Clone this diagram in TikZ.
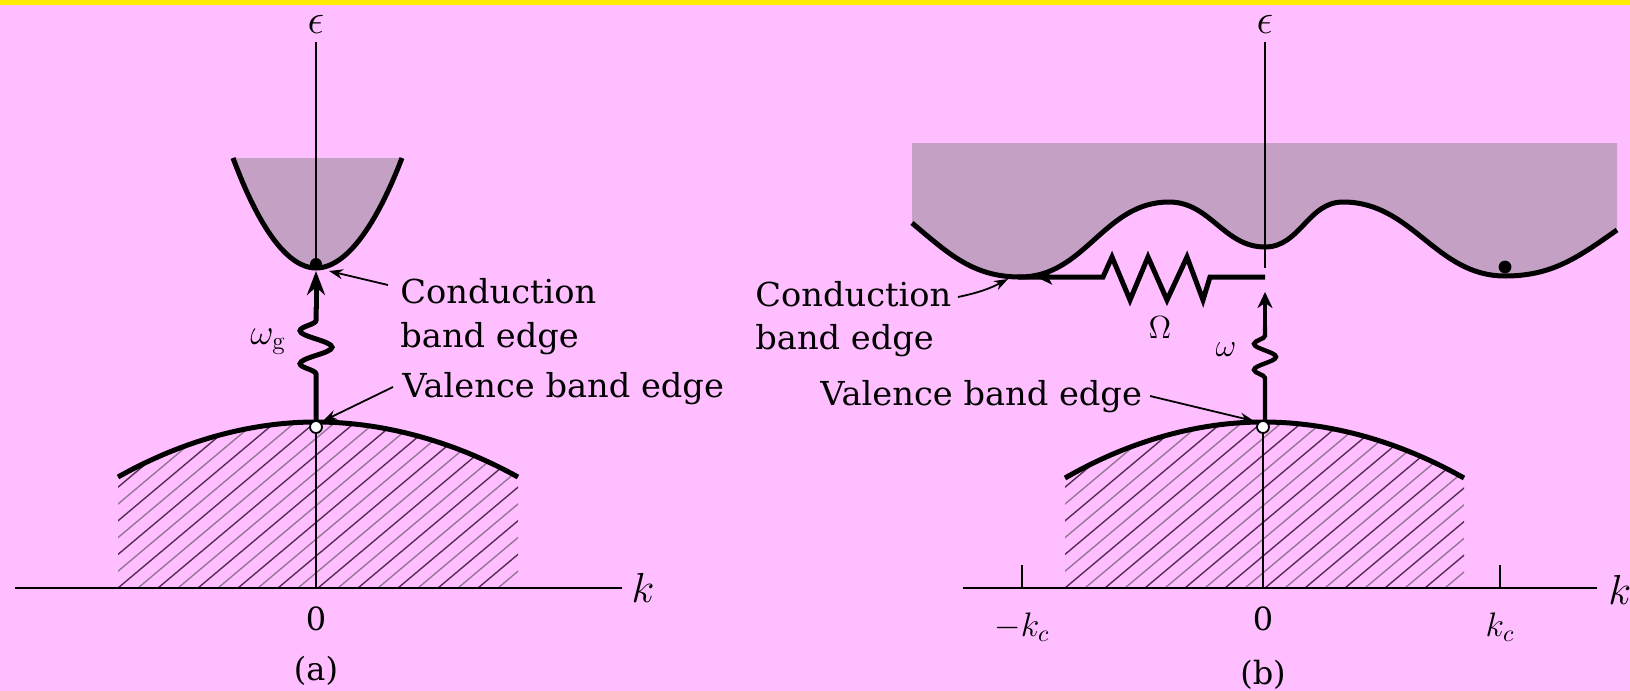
\RequirePackage{fix-cm}
\documentclass[tikz,border=0pt]{standalone}
\usepackage{graphicx}
\usepackage{fontspec}
\newfontfamily\lblfont{DejaVu Serif}
\usetikzlibrary{arrows.meta,decorations.pathmorphing}
\definecolor{pinkbg}{RGB}{255,190,255}
\definecolor{topyellow}{RGB}{255,236,0}
\definecolor{bandfill}{RGB}{196,160,196}
\definecolor{hatchdark}{RGB}{85,45,85}
\definecolor{hatchlight}{RGB}{150,118,150}
\newcommand\wlbl[1]{\scalebox{1.02}[1]{#1}}
\begin{document}
\begin{tikzpicture}[x=0.5pt,y=0.5pt,
  band/.style={line width=2.5pt},
  axisline/.style={line width=1pt},
  kaxis/.style={line width=1.2pt},
  lblarrow/.style={line width=0.9pt,-{Stealth[length=7pt,width=5pt]}},
  txt/.style={font=\lblfont\fontsize{16.5}{20}\selectfont,inner sep=0pt,anchor=base west},
  tlab/.style={font=\lblfont\fontsize{16}{20}\selectfont,inner sep=0pt},
  mlab/.style={font=\fontsize{17}{20}\selectfont,inner sep=0pt},
  biglab/.style={font=\fontsize{21}{24}\selectfont,inner sep=0pt},
  hatchd/.style={line width=0.7pt,hatchdark},
  hatchl/.style={line width=0.7pt,hatchlight},
  opendot/.style={fill=white,draw=black,line width=0.9pt},
]
\useasboundingbox (0,0) rectangle (1630,-691);
\fill[pinkbg] (0,0) rectangle (1630,-691);
\fill[topyellow] (0,0) rectangle (1630,-5);

% ================= panel (a) =================
\coordinate (aTop) at (316,-42);
\coordinate (aCmin) at (316,-264);
\coordinate (aVmax) at (316,-427);
\coordinate (aOrig) at (316,-588);
\coordinate (aKl) at (15,-588);
\coordinate (aKr) at (622,-588);

% conduction band fill
\fill[bandfill] (233,-158) parabola bend (316,-268) (402,-158) -- cycle;
% valence hatch
\begin{scope}
\clip (118,-477) parabola bend (316,-422) (518,-477) -- (518,-588) -- (118,-588) -- cycle;
\foreach \i in {0,2,...,32} {\draw[hatchd] ({-82+\i*20},-588) -- ++(200,168);}
\foreach \i in {1,3,...,31} {\draw[hatchl] ({-82+\i*20},-588) -- ++(200,168);}
\end{scope}
% axes
\draw[axisline] (aTop) -- (aCmin);
\draw[axisline] (aVmax) -- (aOrig);
\draw[kaxis] (aKl) -- (aKr);
% bands
\draw[band] (233,-158) parabola bend (316,-268) (402,-158);
\draw[band] (118,-477) parabola bend (316,-422) (518,-477);
% photon
\coordinate (aV) at (316,-422);
\coordinate (aW) at (316,-307);
\draw[band,decorate,decoration={snake,segment length=16.5pt,amplitude=8pt,pre length=24pt,post length=0pt}] (aV) -- (aW);
\draw[band,-{Stealth[length=12pt,width=9pt]}] (316,-309) -- (316,-271);
\fill (aCmin) circle[radius=3pt];
\draw[opendot] (aVmax) circle[radius=3pt];

% labels (a)
\node[biglab] (epsA) at (316,-24) {$\epsilon$};
\node[biglab] (kA) at (643,-588) {$k$};
\node[tlab] (zeroA) at (316,-619) {0};
\node[tlab] (capA) at (316,-671) {(a)};
\node[font=\fontsize{18}{20}\selectfont,inner sep=0pt] (wgA) at (268,-342) {$\omega_{\mathrm{g}}$};
\node[txt] (condA) at (400,-303) {\wlbl{Conduction}};
\node[txt] (bandA) at (400,-347) {\wlbl{band edge}};
\node[txt] (valA) at (402,-397) {\wlbl{Valence band edge}};
\coordinate (aCs) at (388,-285);
\coordinate (aCe) at (329,-271);
\coordinate (aVs) at (393,-387);
\coordinate (aVe) at (323,-421);
\draw[lblarrow] (aCs) -- (aCe);
\draw[lblarrow] (aVs) -- (aVe);

% ================= panel (b) =================
\coordinate (bTop) at (1265,-42);
\coordinate (bAxEnd) at (1265,-268);
\coordinate (bVmax) at (1263,-427);
\coordinate (bOrig) at (1263,-588);
\coordinate (bKl) at (963,-588);
\coordinate (bKr) at (1597,-588);

% conduction band fill
\fill[bandfill] (912,-143) -- (912,-223) to[out=-40,in=180] (1020,-277) to[out=0,in=180] (1169,-202)
  to[out=0,in=180] (1265,-247) to[out=0,in=180] (1343,-202) to[out=0,in=180] (1505,-276)
  to[out=0,in=-145] (1617,-230) -- (1617,-143) -- cycle;
% valence hatch
\begin{scope}
\clip (1065,-478) parabola bend (1263,-422) (1464,-478) -- (1464,-588) -- (1065,-588) -- cycle;
\foreach \i in {0,2,...,32} {\draw[hatchd] ({865+\i*20},-588) -- ++(200,168);}
\foreach \i in {1,3,...,31} {\draw[hatchl] ({865+\i*20},-588) -- ++(200,168);}
\end{scope}
% axes
\draw[axisline] (bTop) -- (bAxEnd);
\draw[axisline] (bVmax) -- (bOrig);
\draw[kaxis] (bKl) -- (bKr);
\coordinate (tickL) at (1022,-588);
\coordinate (tickR) at (1500,-588);
\draw[axisline] (tickL) -- ++(0,23);
\draw[axisline] (tickR) -- ++(0,23);
% bands
\draw[band] (912,-223) to[out=-40,in=180] (1020,-277) to[out=0,in=180] (1169,-202)
  to[out=0,in=180] (1265,-247) to[out=0,in=180] (1343,-202) to[out=0,in=180] (1505,-276)
  to[out=0,in=-145] (1617,-230);
\draw[band] (1065,-478) parabola bend (1263,-422) (1464,-478);
% phonon Omega
\coordinate (bCorner) at (1265,-277);
\coordinate (bCmin) at (1018,-277);
\draw[band,line join=miter] (bCorner) -- (1210,-277) -- (1203,-300) -- (1187,-257) -- (1167,-300)
  -- (1148,-257) -- (1130,-300) -- (1112,-257) -- (1103,-277) -- (bCmin);
\draw[line width=2pt,-{Stealth[length=8pt,width=7.5pt,inset=2pt]}] (1075,-277) -- (1036,-277);
% photon omega
\coordinate (bV) at (1265,-422);
\coordinate (bW) at (1265,-327);
\draw[line width=2.2pt,decorate,decoration={snake,segment length=13pt,amplitude=5.5pt,pre length=22pt,post length=0pt}] (bV) -- (bW);
\draw[line width=2.2pt,-{Stealth[length=8pt,width=7.5pt,inset=2.5pt]}] (1265,-329) -- (1265,-292);
\fill (1505,-267) circle[radius=3.2pt];
\draw[opendot] (bVmax) circle[radius=3pt];

% labels (b)
\node[biglab] (epsB) at (1265,-24) {$\epsilon$};
\node[biglab,anchor=west] (kB) at (1608,-590) {$k$};
\node[tlab] (zeroB) at (1263,-619) {0};
\node[mlab] (kcL) at (1022,-627) {$-k_c$};
\node[mlab] (kcR) at (1500,-627) {$k_c$};
\node[tlab] (capB) at (1263,-675) {(b)};
\node[font=\fontsize{16}{18}\selectfont,inner sep=0pt] (OmB) at (1160,-328) {$\Omega$};
\node[font=\fontsize{16}{18}\selectfont,inner sep=0pt] (wB) at (1226,-350) {$\omega$};
\node[txt] (condB) at (755,-306) {\wlbl{Conduction}};
\node[txt] (bandB) at (755,-349) {\wlbl{band edge}};
\node[txt] (valB) at (820,-405) {\wlbl{Valence band edge}};
\coordinate (bCs) at (958,-297);
\coordinate (bCe) at (1008,-279);
\coordinate (bVs) at (1150,-396);
\coordinate (bVe) at (1254,-421);
\draw[lblarrow] (bCs) to[bend right=8] (bCe);
\draw[lblarrow] (bVs) -- (bVe);
\end{tikzpicture}
\end{document}
